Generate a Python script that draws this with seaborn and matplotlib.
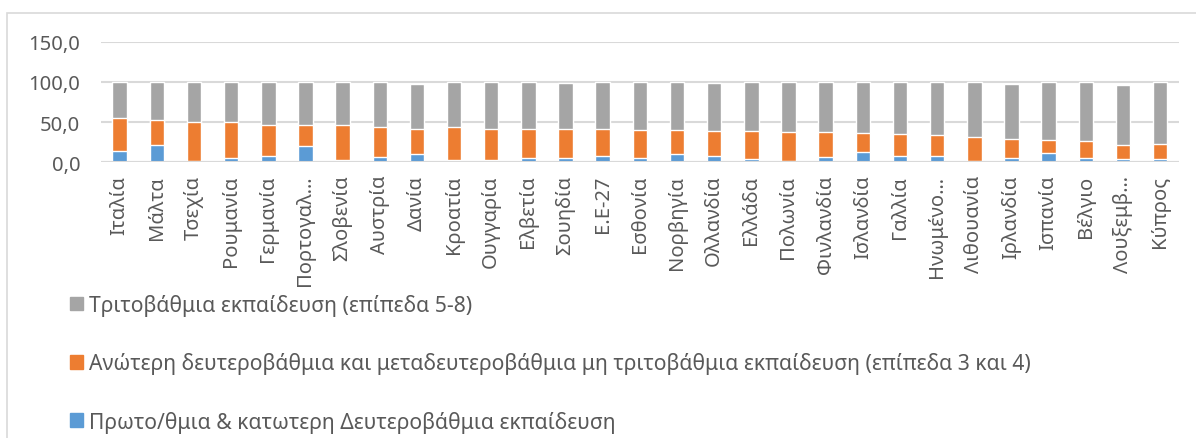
import pandas as pd
import seaborn as sns
import matplotlib.pyplot as plt
from matplotlib.patches import Patch, Rectangle

# Δεδομένα (ποσοστά ανά επίπεδο εκπαίδευσης)
countries = ['Ιταλία', 'Μάλτα', 'Τσεχία', 'Ρουμανία', 'Γερμανία', 'Πορτογαλ…',
             'Σλοβενία', 'Αυστρία', 'Δανία', 'Κροατία', 'Ουγγαρία', 'Ελβετία',
             'Σουηδία', 'Ε.Ε-27', 'Εσθονία', 'Νορβηγία', 'Ολλανδία', 'Ελλάδα',
             'Πολωνία', 'Φινλανδία', 'Ισλανδία', 'Γαλλία', 'Ηνωμένο…', 'Λιθουανία',
             'Ιρλανδία', 'Ισπανία', 'Βέλγιο', 'Λουξεμβ…', 'Κύπρος']
primary = [14.5, 21.5, 1.5, 5.0, 7.5, 20.5, 3.0, 6.0, 10.7, 2.5, 3.0, 5.4,
           5.4, 7.9, 5.4, 10.3, 7.9, 4.5, 1.2, 6.6, 12.4, 7.9, 8.3, 1.7,
           5.0, 11.2, 5.8, 4.1, 4.1]
upper_secondary = [40.0, 30.5, 49.0, 45.0, 38.5, 25.5, 43.0, 37.5, 31.3, 40.9, 39.0, 35.6,
                   35.6, 33.4, 35.1, 30.2, 31.1, 34.5, 36.8, 31.4, 24.6, 26.8, 25.2, 30.3,
                   24.0, 16.8, 20.2, 17.4, 18.2]
tertiary = [45.5, 48.0, 49.5, 50.0, 54.0, 54.0, 54.0, 56.5, 55.5, 56.6, 58.0, 59.0,
            58.0, 58.7, 59.5, 59.5, 60.0, 61.0, 62.0, 62.0, 63.0, 65.3, 66.5, 68.0,
            68.5, 72.0, 74.0, 74.8, 77.7]
yticks = [0, 50, 100, 150]
ytick_labels = ['0,0', '50,0', '100,0', '150,0']

lbl_tert = 'Τριτοβάθμια εκπαίδευση (επίπεδα 5-8)'
lbl_sec = 'Ανώτερη δευτεροβάθμια και μεταδευτεροβάθμια μη τριτοβάθμια εκπαίδευση (επίπεδα 3 και 4)'
lbl_prim = 'Πρωτο/θμια & κατωτερη Δευτεροβάθμια εκπαίδευση'

df = pd.DataFrame({'Χώρα': countries, 'prim': primary,
                   'sec': upper_secondary, 'tert': tertiary})
df['cum_sec'] = df['prim'] + df['sec']
df['cum_tert'] = df['cum_sec'] + df['tert']

sns.set_style('white')
plt.rcParams['font.family'] = ['Noto Sans', 'DejaVu Sans']

GREY, ORANGE, BLUE = '#A5A5A5', '#ED7D31', '#5B9BD5'
TXT = '#595959'

fig = plt.figure(figsize=(11.96, 4.39), dpi=100)
ax = fig.add_axes([0.0845, 0.628, 0.901, 0.275])

# barres empilées : on dessine les cumuls du plus grand au plus petit
sns.barplot(data=df, x='Χώρα', y='cum_tert', color=GREY, width=0.39,
            saturation=1, ax=ax, zorder=3)
sns.barplot(data=df, x='Χώρα', y='cum_sec', color=ORANGE, width=0.39,
            saturation=1, ax=ax, zorder=3)
sns.barplot(data=df, x='Χώρα', y='prim', color=BLUE, width=0.39,
            saturation=1, ax=ax, zorder=3)

ax.set_ylim(0, 150)
ax.set_xlim(-0.5, len(countries) - 0.5)
ax.set_yticks(yticks)
ax.set_yticklabels(ytick_labels)
ax.set_xlabel('')
ax.set_ylabel('')
ax.yaxis.grid(True, color='#D9D9D9', linewidth=1.5, zorder=0)
ax.set_axisbelow(True)
for s in ['top', 'right', 'left', 'bottom']:
    ax.spines[s].set_visible(False)
ax.axhline(0, color='#D9D9D9', linewidth=1.5, zorder=4)
ax.tick_params(axis='y', length=0, pad=15, labelsize=14.5, labelcolor=TXT)
ax.tick_params(axis='x', length=0, pad=9, labelsize=14.5, labelcolor=TXT, rotation=90)

handles = [Patch(color=GREY, label=lbl_tert),
           Patch(color=ORANGE, label=lbl_sec),
           Patch(color=BLUE, label=lbl_prim)]
leg = fig.legend(handles=handles, loc='upper left',
                 bbox_to_anchor=(70 / 1196, 1 - 295 / 439),
                 frameon=False, fontsize=15.2, labelcolor=TXT,
                 borderpad=0, borderaxespad=0,
                 handlelength=0.61, handleheight=0.61, handletextpad=0.28,
                 labelspacing=1.72)

# cadre du graphique
fig.patches.append(Rectangle((6.5 / 1196, -0.05), 1.1, 1 - 13.5 / 439 + 0.05,
                             transform=fig.transFigure, fill=False,
                             edgecolor='#D9D9D9', linewidth=1.2))

fig.savefig('out.png', dpi=100)
